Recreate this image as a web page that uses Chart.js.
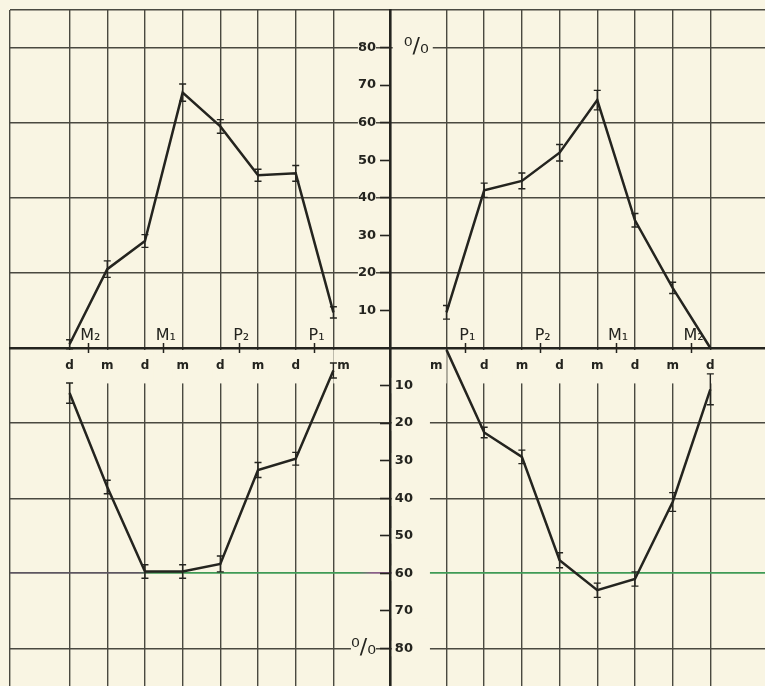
<!DOCTYPE html>
<html>
<head>
<meta charset="UTF-8" />
<title>d / m percentages</title>
<script src="https://cdn.jsdelivr.net/npm/chart.js@4.4.1/dist/chart.umd.min.js"></script>
<style>
  html,body{margin:0;padding:0;background:#f9f5e3;overflow:hidden}
  .wrap{position:relative;width:765px;height:686px}
</style>
</head>
<body>
<div class="wrap"><canvas id="chart"></canvas></div>
<script>
// ---- data (percent; lower curves are plotted downwards) ----
const leftCats = ['d','m','d','m','d','m','d','m'];
const rightCats = ['m','d','m','d','m','d','m','d'];
const leftGroups = ['M₂','M₁','P₂','P₁'];
const rightGroups = ['P₁','P₂','M₁','M₂'];
const pctTicks = [10,20,30,40,50,60,70,80];

const upperLeft = [1, 21, 28.5, 68, 59, 46, 46.5, 9.5];
const upperLeftErr = [1.2, 2.2, 1.7, 2.3, 1.8, 1.6, 2.1, 1.5];
const lowerLeft = [12, 37, 59.5, 59.5, 57.5, 32.5, 29.5, 6];
const lowerLeftErr = [2.7, 1.8, 1.8, 1.8, 2.1, 2, 1.7, 2];
const upperRight = [9.5, 42, 44.5, 52, 66, 34, 16, 0];
const upperRightErr = [1.8, 1.9, 2.1, 2.2, 2.6, 1.8, 1.5, 0];
const lowerRight = [0.5, 22.5, 29, 56.5, 64.5, 61.5, 41, 11];
const lowerRightErr = [0, 1.4, 1.8, 2, 1.9, 1.9, 2.5, 4.1];

// ---- layout of the axis (slot units, 1 slot = one grid column) ----
const X_MIN = -10.08, X_MAX = 9.95, Y_MIN = -90, Y_MAX = 90;
const leftSlots = leftCats.map((c, i) => i - 8.5);
const rightSlots = rightCats.map((c, i) => i + 1.5);
const leftGroupPos = leftGroups.map((g, i) => -8 + 2 * i);
const rightGroupPos = rightGroups.map((g, i) => 2 + 2 * i);

const INK = '#24241f';
const GRID = '#4a4940';
const PAPER = '#f9f5e3';
const GREEN = '#3f9a55';
const FONT = 'DejaVu Sans';

const pts = (slots, vals, sign) => slots.map((x, i) => ({x: x, y: sign * vals[i]}));

// the two "m" next to the centre sit beside their column, not on it
const catLabelPos = leftSlots.map((v, i) => i === 7 ? v + 0.27 : v)
  .concat(rightSlots.map((v, i) => i === 0 ? v - 0.27 : v));
const catLabelText = leftCats.concat(rightCats);
const groupPos = leftGroupPos.concat(rightGroupPos);
const groupText = leftGroups.concat(rightGroups);

const setTicks = values => scale => { scale.ticks = values.map(v => ({value: v})); };

function sixtyColour(chart) {
  const a = chart.chartArea;
  if (!a) return GREEN;
  const g = chart.ctx.createLinearGradient(a.left, 0, a.right, 0);
  g.addColorStop(0, '#5d5660');
  g.addColorStop(0.17, '#5d5660');
  g.addColorStop(0.19, GREEN);
  g.addColorStop(0.46, GREEN);
  g.addColorStop(0.48, '#8a5f88');
  g.addColorStop(0.52, '#8a5f88');
  g.addColorStop(0.55, GREEN);
  g.addColorStop(1, GREEN);
  return g;
}

const errorBars = {
  id: 'errorBars',
  afterDatasetsDraw(chart) {
    const ctx = chart.ctx, ys = chart.scales.y;
    chart.data.datasets.forEach((ds, i) => {
      const meta = chart.getDatasetMeta(i);
      ctx.save();
      ctx.strokeStyle = INK;
      ctx.lineWidth = 1.4;
      meta.data.forEach((pt, j) => {
        const e = ds.errors[j];
        if (!e) return;
        const v = ds.data[j].y;
        const t = ys.getPixelForValue(v + e), b = ys.getPixelForValue(v - e);
        ctx.beginPath();
        ctx.moveTo(pt.x, t); ctx.lineTo(pt.x, b);
        ctx.moveTo(pt.x - 3.5, t); ctx.lineTo(pt.x + 3.5, t);
        ctx.moveTo(pt.x - 3.5, b); ctx.lineTo(pt.x + 3.5, b);
        ctx.stroke();
      });
      ctx.restore();
    });
  }
};

const line = (data, errors) => ({
  data, errors, showLine: true, borderColor: INK, borderWidth: 2.5,
  pointRadius: 0, tension: 0, xAxisID: 'x', yAxisID: 'y'
});

const noBorder = {display: false};
const yFont = {family: FONT, size: 13, weight: 'bold'};
const pctFont = {family: FONT, size: 22};
// negative padding: keeps the label axes from eating into the plot height
const NO_PAD = -20;

new Chart(document.getElementById('chart'), {
  type: 'scatter',
  data: {
    datasets: [
      line(pts(leftSlots, upperLeft, 1), upperLeftErr),
      line(pts(leftSlots, lowerLeft, -1), lowerLeftErr),
      line(pts(rightSlots, upperRight, 1), upperRightErr),
      line(pts(rightSlots, lowerRight, -1), lowerRightErr)
    ]
  },
  options: {
    responsive: true,
    maintainAspectRatio: false,
    animation: false,
    events: [],
    layout: {padding: {left: 10, top: 10, right: 0, bottom: 0}},
    plugins: {legend: {display: false}, tooltip: {enabled: false}},
    scales: {
      x: {
        axis: 'x', type: 'linear', min: X_MIN, max: X_MAX, position: {y: 0},
        afterBuildTicks: setTicks([X_MIN].concat(leftSlots, rightSlots)),
        ticks: {display: false},
        grid: {color: GRID, lineWidth: 1.4, drawTicks: false},
        border: {display: true, color: INK, width: 2.6}
      },
      xCat: {
        axis: 'x', type: 'linear', min: X_MIN, max: X_MAX, position: {y: 0},
        afterBuildTicks: setTicks(catLabelPos),
        grid: {display: false, drawTicks: false},
        border: noBorder,
        ticks: {
          autoSkip: false, maxRotation: 0, padding: 11, color: INK,
          font: {family: FONT, size: 12, weight: 'bold'},
          callback: (v, i) => catLabelText[i],
          showLabelBackdrop: true, backdropColor: PAPER,
          backdropPadding: {top: 9, bottom: 10, left: 4, right: 4}
        }
      },
      xGroup: {
        axis: 'x', type: 'linear', min: X_MIN, max: X_MAX, position: {y: 0},
        afterBuildTicks: setTicks(groupPos),
        grid: {display: true, drawOnChartArea: false, drawTicks: true, tickLength: 5, tickColor: INK, tickWidth: 1.5},
        border: noBorder,
        ticks: {
          autoSkip: false, maxRotation: 0, mirror: true, padding: -8, labelOffset: 2, color: INK,
          font: {family: FONT, size: 16},
          callback: (v, i) => groupText[i]
        }
      },
      xGroupUp: {
        axis: 'x', type: 'linear', min: X_MIN, max: X_MAX, position: {y: 0},
        afterBuildTicks: setTicks(groupPos),
        grid: {display: true, drawOnChartArea: false, drawTicks: true, tickLength: -5, tickColor: INK, tickWidth: 1.5},
        border: noBorder,
        ticks: {display: false}
      },
      y: {
        axis: 'y', type: 'linear', min: Y_MIN, max: Y_MAX, position: {x: 0},
        afterBuildTicks: setTicks([90, 80, 60, 40, 20, -20, -40, -60, -80]),
        ticks: {display: false},
        grid: {
          drawTicks: false,
          lineWidth: c => (c.tick && c.tick.value === -60) ? 1.7 : 1.4,
          color: c => (c.tick && c.tick.value === -60) ? sixtyColour(c.chart) : GRID
        },
        border: {display: true, color: INK, width: 2.6}
      },
      yLabL: {
        axis: 'y', type: 'linear', min: Y_MIN, max: Y_MAX, position: {x: -0.37},
        afterBuildTicks: setTicks([-80].concat(pctTicks)),
        grid: {display: false, drawTicks: false},
        border: noBorder,
        ticks: {
          autoSkip: false, padding: NO_PAD, color: INK,
          font: c => c.tick && c.tick.value === -80 ? pctFont : yFont,
          callback: v => v === -80 ? '⁰/₀' : String(v),
          showLabelBackdrop: true, backdropColor: PAPER,
          backdropPadding: c => c.tick && c.tick.value === -80 ? {left: 9, right: 2, top: 0, bottom: 0} : {left: 6, right: 2, top: 0, bottom: 0}
        }
      },
      yLabR: {
        axis: 'y', type: 'linear', min: Y_MIN, max: Y_MAX, position: {x: 0.61},
        afterBuildTicks: setTicks(pctTicks.map(v => -v).reverse()),
        grid: {display: false, drawTicks: false},
        border: noBorder,
        ticks: {
          autoSkip: false, padding: NO_PAD, color: INK, font: yFont,
          callback: v => String(-v),
          showLabelBackdrop: true, backdropColor: PAPER,
          backdropPadding: {left: 3, right: 17, top: 0, bottom: 0}
        }
      },
      yPct: {
        axis: 'y', type: 'linear', min: Y_MIN, max: Y_MAX, position: {x: 1.03},
        afterBuildTicks: setTicks([80]),
        grid: {display: false, drawTicks: false},
        border: noBorder,
        ticks: {
          autoSkip: false, padding: NO_PAD, color: INK, font: pctFont,
          callback: () => '⁰/₀',
          showLabelBackdrop: true, backdropColor: PAPER,
          backdropPadding: {left: 11, right: 4, top: 0, bottom: 0}
        }
      },
      // short tick marks on the left of the central axis, drawn last
      yTicks: {
        axis: 'y', type: 'linear', min: Y_MIN, max: Y_MAX, position: {x: 0},
        afterBuildTicks: setTicks(pctTicks.map(v => -v).reverse().concat(pctTicks)),
        ticks: {display: false},
        grid: {display: true, drawOnChartArea: false, drawTicks: true, tickLength: 10, tickColor: INK, tickWidth: 1.6},
        border: noBorder
      }
    }
  },
  plugins: [errorBars]
});
</script>
</body>
</html>
